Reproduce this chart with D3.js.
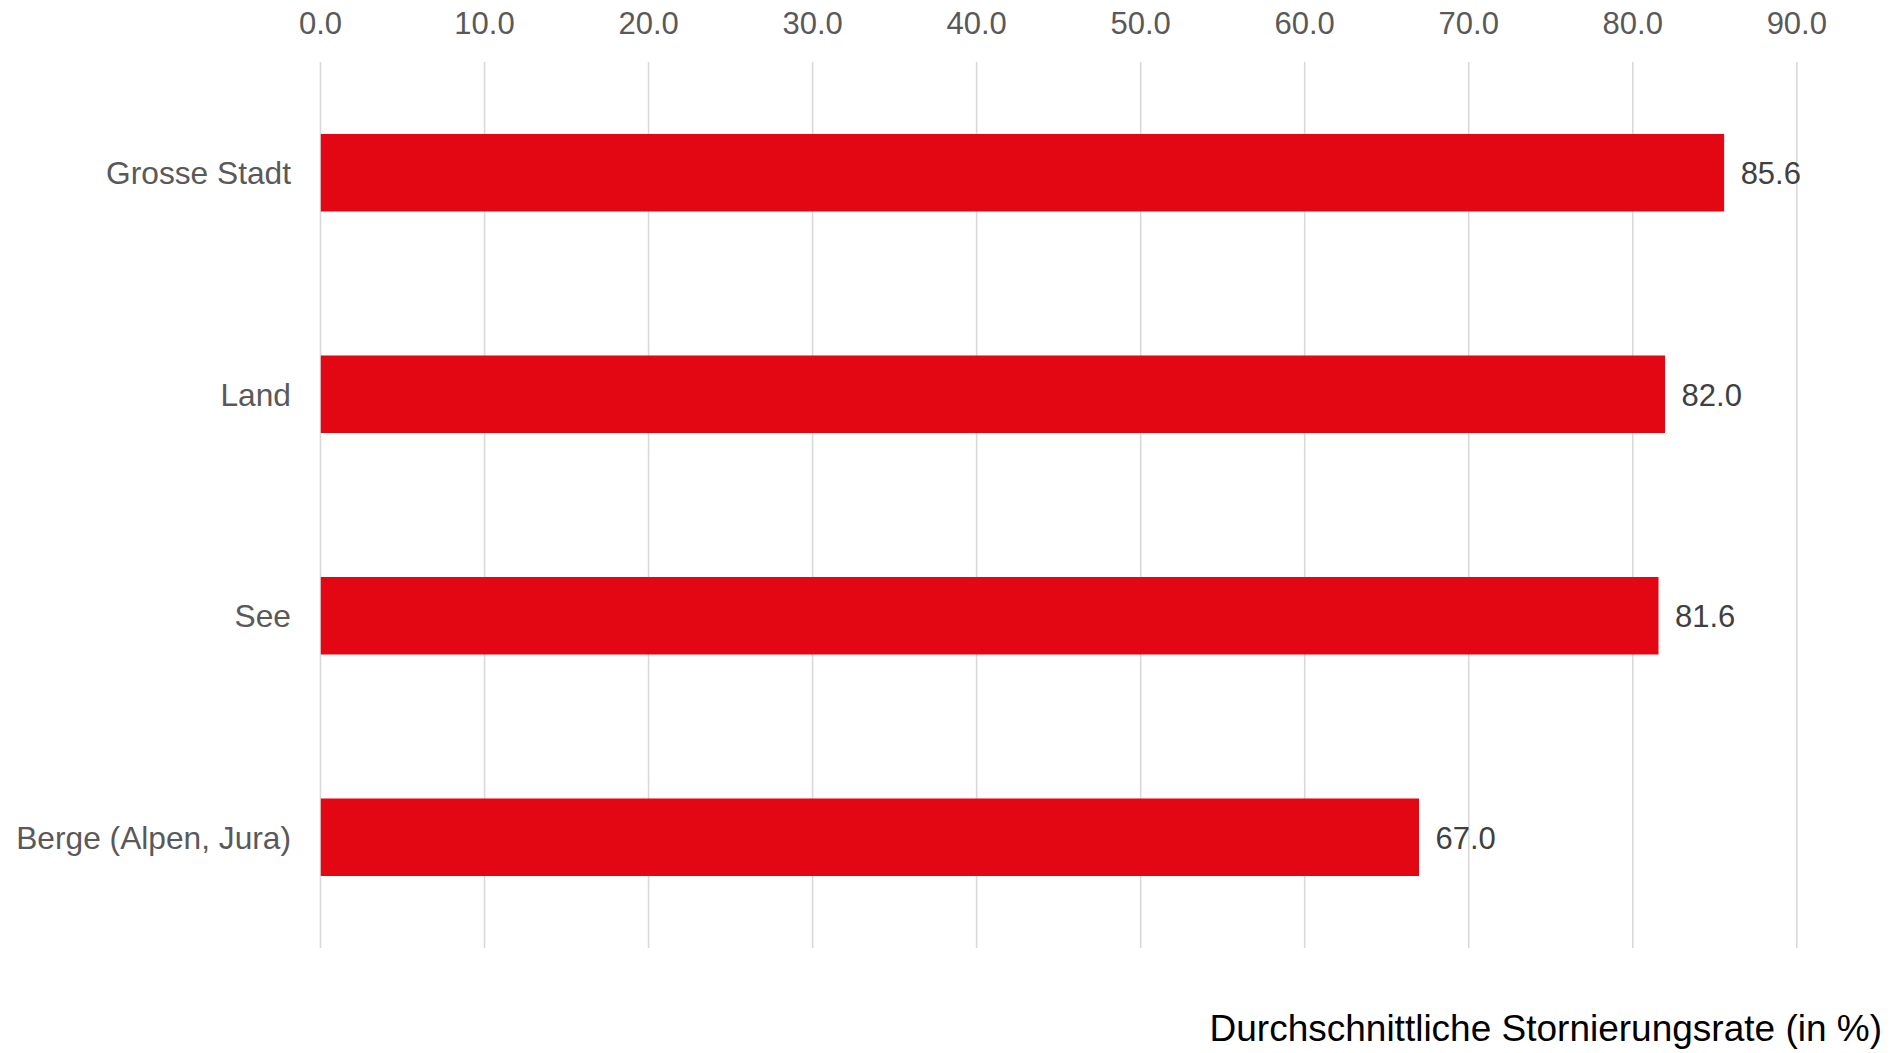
<!DOCTYPE html>
<html>
<head>
<meta charset="utf-8">
<script src="https://cdn.jsdelivr.net/npm/d3@7"></script>
<style>
  html, body { margin: 0; padding: 0; background: #ffffff; }
  svg { display: block; font-family: "Liberation Sans", Arial, Helvetica, sans-serif; }
</style>
</head>
<body>
<svg id="chart" width="1895" height="1053"></svg>
<script>
// ---- data ----
const categories = ["Grosse Stadt", "Land", "See", "Berge (Alpen, Jura)"];
const values = [85.6, 82.0, 81.6, 67.0];
const tickValues = [0, 10, 20, 30, 40, 50, 60, 70, 80, 90];
const axisTitle = "Durchschnittliche Stornierungsrate (in %)";

// ---- layout ----
const W = 1895, H = 1053;
const plotLeft = 320, plotRight = 1796.3;
const plotTop = 62, plotBottom = 948;

const svg = d3.select("#chart");

const x = d3.scaleLinear().domain([0, 90]).range([plotLeft, plotRight]);
const y = d3.scaleBand().domain(categories).range([plotTop, plotBottom])
  .paddingInner(0.65).paddingOuter(0.325);

// gridlines
const grid = svg.append("g")
  .attr("transform", `translate(0,${plotTop})`)
  .call(d3.axisBottom(x).tickValues(tickValues).tickSize(plotBottom - plotTop).tickFormat(""));
grid.select(".domain").remove();
grid.selectAll(".tick line").attr("stroke", "#d9d9d9").attr("stroke-width", 1.6);

// top axis labels
const xAxis = svg.append("g")
  .attr("transform", "translate(0,33.8)")
  .call(d3.axisTop(x).tickValues(tickValues).tickFormat(d3.format(".1f")).tickSize(0).tickPadding(0));
xAxis.select(".domain").remove();
xAxis.selectAll("text")
  .attr("font-size", 31).attr("fill", "#595959")
  .attr("font-family", "'Liberation Sans', Arial, sans-serif");

// bars
svg.append("g").selectAll("rect")
  .data(values)
  .join("rect")
  .attr("x", x(0) + 0.8)
  .attr("y", (d, i) => y(categories[i]))
  .attr("width", d => x(d) - x(0) - 0.8)
  .attr("height", y.bandwidth())
  .attr("fill", "#e30613");

// value labels
svg.append("g").selectAll("text")
  .data(values)
  .join("text")
  .attr("x", d => x(d) + 16.5)
  .attr("y", (d, i) => y(categories[i]) + y.bandwidth() / 2)
  .attr("dy", "0.37em")
  .attr("font-size", 31)
  .attr("fill", "#404040")
  .text(d => d3.format(".1f")(d));

// category axis
const yAxis = svg.append("g")
  .attr("transform", `translate(${plotLeft},0)`)
  .call(d3.axisLeft(y).tickSize(0).tickPadding(29));
yAxis.select(".domain").remove();
yAxis.selectAll("text")
  .attr("font-size", 31.7).attr("fill", "#595959")
  .attr("dy", "0.36em")
  .attr("font-family", "'Liberation Sans', Arial, sans-serif");

// axis title
svg.append("text")
  .attr("x", 1882)
  .attr("y", 1041)
  .attr("text-anchor", "end")
  .attr("font-size", 37)
  .attr("fill", "#000000")
  .text(axisTitle);
</script>
</body>
</html>
